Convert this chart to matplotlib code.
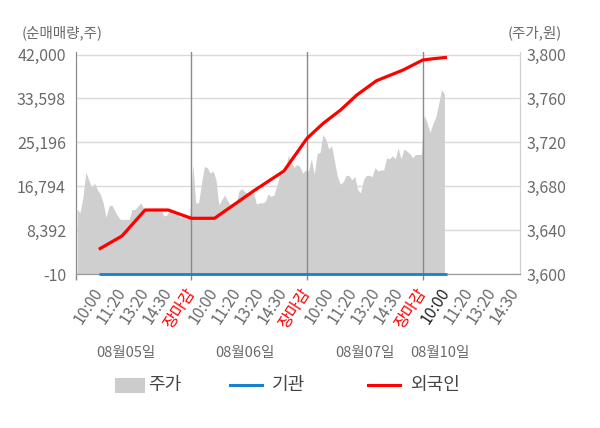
import matplotlib
matplotlib.use("Agg")
import matplotlib.pyplot as plt
import matplotlib.transforms as mtransforms
from matplotlib.lines import Line2D
from matplotlib.patches import Rectangle
import numpy as np

plt.rcParams['font.family'] = ['Noto Sans CJK KR', 'DejaVu Sans']

# price (주가, 원), 40 samples per trading day
price_0805 = [3659, 3656, 3670, 3693, 3686, 3679, 3683, 3677, 3673, 3665,
              3652, 3662, 3663, 3658, 3653, 3650, 3650, 3650, 3650, 3659,
              3659, 3662, 3665, 3660, 3659, 3659, 3659, 3659, 3659, 3659,
              3653, 3654, 3658, 3657, 3656, 3653, 3652, 3652, 3651, 3655]
price_0806 = [3700, 3665, 3665, 3683, 3698, 3697, 3692, 3694, 3686, 3663,
              3668, 3672, 3667, 3663, 3665, 3665, 3676, 3678, 3675, 3674,
              3674, 3674, 3664, 3665, 3665, 3666, 3673, 3671, 3672, 3680,
              3690, 3691, 3694, 3708, 3702, 3697, 3700, 3698, 3692, 3695]
price_0807 = [3694, 3705, 3691, 3710, 3711, 3727, 3723, 3714, 3717, 3703,
              3689, 3682, 3684, 3690, 3690, 3686, 3689, 3677, 3674, 3686,
              3690, 3690, 3689, 3697, 3694, 3695, 3695, 3706, 3705, 3708,
              3705, 3715, 3705, 3714, 3712, 3710, 3706, 3709, 3709, 3709]
price_0810 = [3745, 3738, 3729, 3737, 3743, 3755, 3768, 3764]

# net buying (순매매량, 주); x in trading-day units
foreign_x = [0.2, 0.4, 0.6, 0.8, 0.92, 1.0, 1.2, 1.55, 1.8, 2.0,
             2.14, 2.29, 2.43, 2.6, 2.83, 3.0, 3.09, 3.21]
foreign_net = [4768, 7309, 12278, 12278, 11322, 10692, 10692, 16100, 19730, 25980,
               28846, 31388, 34254, 36987, 39031, 40942, 41190, 41459]
institution_net = [0, 0, 0, 0, 0, 0, 0, 0, 0, 0,
                   0, 0, 0, 0, 0, 0, 0, 0]

dates = ['08월05일', '08월06일', '08월07일', '08월10일']
date_pos = [0.43, 1.46, 2.5, 3.15]
time_labels = ['10:00', '11:20', '13:20', '14:30', '장마감'] * 3 + ['10:00', '11:20', '13:20', '14:30']
left_ticks = [-10, 8392, 16794, 25196, 33598, 42000]
right_ticks = [3600, 3640, 3680, 3720, 3760, 3800]

W, H = 600, 428
fig = plt.figure(figsize=(W / 100, H / 100), dpi=100)
x0, x1, y_top, y_bot = 75.7, 520, 52, 274.3
ax = fig.add_axes([x0 / W, 1 - y_bot / H, (x1 - x0) / W, (y_bot - y_top) / H])
ax2 = ax.twinx()
ax.set_zorder(ax2.get_zorder() + 1)
ax.patch.set_visible(False)
ax2.patch.set_facecolor('#f4f4f4')

# price area on the right axis
days = [price_0805, price_0806, price_0807, price_0810]
px = np.concatenate([d + (np.arange(len(p)) + 0.5) / 40 for d, p in enumerate(days)])
py = np.concatenate(days)
ax2.fill_between(px, py, 3500, color='#cfcfcf', lw=0)
ax2.set_ylim(3600, 3800 + 2.5 * 200 / 219.8)
ax2.set_yticks(right_ticks)
ax2.set_yticklabels([f'{v:,}' for v in right_ticks])
ax2.tick_params(axis='y', length=0, pad=5, labelsize=11.5, labelcolor='#6a6a6a')
ax2.grid(axis='y', color='#dadada', lw=1)
ax2.set_axisbelow(True)

# net buying lines on the left axis
ax.plot(foreign_x, institution_net, color='#1a80d0', lw=2.0, clip_on=False,
        solid_capstyle='butt', zorder=3)
ax.plot(foreign_x, foreign_net, color='#ff0000', lw=2.3, solid_capstyle='butt', zorder=4)
ax.set_ylim(-10, 42000 + 2.5 * 42010 / 219.8)
ax.set_yticks(left_ticks)
ax.set_yticklabels([f'{v:,}' for v in left_ticks])
ax.tick_params(axis='y', length=0, pad=7, labelsize=11.5, labelcolor='#6a6a6a')

for d in [1, 2, 3]:
    ax.axvline(d, color='#8a8a8a', lw=1, zorder=2)

ax.set_xlim(0, (x1 - x0) / 115.67)
ax.xaxis.remove_overlapping_locs = False
ax.set_xticks([0, 1, 2, 3])
ax.set_xticklabels([])
ax.tick_params(axis='x', which='major', length=4, color='#8a8a8a', width=1)
tick_pos = [d + (k + 1) / 5 for d in range(4) for k in range(5)][:len(time_labels)]
ax.set_xticks(tick_pos, labels=time_labels, minor=True)
ax.tick_params(axis='x', which='minor', length=0, pad=11, labelsize=11.5)
for i, lbl in enumerate(ax.get_xticklabels(minor=True)):
    lbl.set_rotation(57)
    lbl.set_rotation_mode('anchor')
    lbl.set_ha('right')
    lbl.set_va('center')
    if time_labels[i] == '장마감':
        lbl.set_color('#ff0000')
    elif i == 15:
        lbl.set_color('#222222')
    else:
        lbl.set_color('#6a6a6a')

for a in (ax, ax2):
    a.spines['top'].set_visible(False)
    a.spines['left'].set_color('#8a8a8a')
    a.spines['right'].set_color('#d0d0d0')
    a.spines['bottom'].set_color('#9a9a9a')

trans = mtransforms.blended_transform_factory(ax.transData, fig.transFigure)
for pos, lab in zip(date_pos, dates):
    fig.text(pos, 1 - 353 / H, lab, transform=trans, ha='center', va='center',
             fontsize=10.5, color='#6a6a6a')

fig.text(21.7 / W, 1 - 33 / H, '(순매매량,주)', ha='left', va='center', fontsize=10.5, color='#6a6a6a')
fig.text(562 / W, 1 - 33 / H, '(주가,원)', ha='right', va='center', fontsize=10.5, color='#6a6a6a')

# legend
ly = 1 - 385 / H
fig.patches.append(Rectangle((115 / W, ly - 7.5 / H), 30 / W, 15 / H, transform=fig.transFigure,
                             facecolor='#cccccc', edgecolor='none'))
fig.text(148 / W, ly, '주가', ha='left', va='center', fontsize=13, color='#444444')
fig.lines.append(Line2D([230 / W, 262 / W], [ly, ly], transform=fig.transFigure, color='#1a80d0', lw=2.2))
fig.text(272 / W, ly, '기관', ha='left', va='center', fontsize=13, color='#444444')
fig.lines.append(Line2D([368 / W, 400 / W], [ly, ly], transform=fig.transFigure, color='#ff0000', lw=2.2))
fig.text(410 / W, ly, '외국인', ha='left', va='center', fontsize=13, color='#444444')

fig.savefig('out.png', dpi=100)
